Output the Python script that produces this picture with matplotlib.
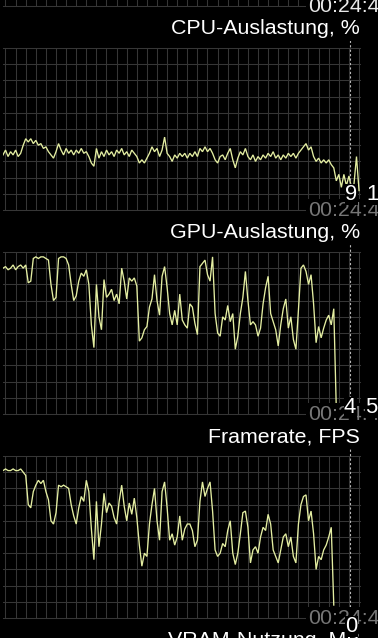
import matplotlib
matplotlib.use("Agg")
import matplotlib.pyplot as plt
import numpy as np
from matplotlib.lines import Line2D

# ---------------- data ----------------
titles = ["CPU-Auslastung, %", "GPU-Auslastung, %", "Framerate, FPS", "VRAM-Nutzung, MB"]
time_label = "00:24:47"

cpu = [34, 37, 33, 36, 34, 37, 33, 35, 40, 44,
       42, 44, 41, 43, 40, 41, 38, 39, 36, 34,
       32, 36, 41, 37, 34, 38, 35, 37, 34, 37,
       35, 38, 35, 36, 33, 29, 27, 38, 32, 36,
       33, 37, 34, 36, 33, 37, 35, 38, 34, 36,
       33, 37, 35, 33, 29, 31, 29, 32, 35, 39,
       36, 38, 33, 37, 45, 35, 33, 30, 34, 32,
       35, 33, 35, 32, 35, 33, 36, 33, 38, 36,
       39, 36, 38, 35, 31, 29, 33, 34, 31, 35,
       38, 31, 26, 32, 36, 34, 38, 33, 31, 34,
       30, 33, 31, 34, 32, 35, 33, 36, 32, 34,
       31, 34, 32, 35, 33, 35, 32, 35, 37, 39,
       41, 37, 39, 33, 30, 32, 29, 31, 29, 31,
       28, 26, 18, 22, 14, 22, 15, 21, 14, 16,
       33, 12]

gpu = [90, 91, 89, 90, 92, 89, 91, 92, 90, 92,
       81, 82, 96, 97, 96, 97, 97, 96, 95, 80,
       70, 72, 96, 97, 97, 96, 92, 80, 70, 73,
       82, 87, 85, 89, 80, 55, 41, 80, 60, 52,
       83, 72, 74, 77, 70, 74, 68, 90, 82, 71,
       84, 82, 84, 79, 45, 47, 52, 54, 66, 71,
       86, 70, 61, 85, 91, 78, 62, 55, 64, 55,
       74, 58, 55, 53, 68, 66, 56, 49, 91, 93,
       95, 86, 82, 97, 62, 50, 48, 60, 58, 67,
       57, 62, 40, 48, 62, 72, 88, 70, 55, 57,
       55, 48, 53, 68, 78, 85, 62, 57, 52, 42,
       55, 65, 71, 53, 60, 46, 40, 64, 90, 92,
       88, 80, 86, 68, 44, 54, 47, 53, 58, 61,
       55, 65, 3]

fps = [91, 92, 91, 91, 92, 91, 91, 92, 90, 88,
       70, 68, 78, 82, 85, 83, 85, 78, 73, 60,
       58, 65, 82, 81, 82, 81, 80, 70, 63, 58,
       68, 75, 72, 85, 78, 55, 36, 72, 44, 58,
       77, 65, 71, 69, 62, 58, 72, 82, 69, 60,
       71, 64, 74, 62, 45, 32, 40, 38, 58, 70,
       80, 60, 48, 78, 84, 68, 48, 52, 45, 50,
       63, 48, 55, 58, 58, 54, 44, 48, 72, 84,
       75, 80, 84, 66, 42, 38, 40, 46, 44, 54,
       60, 40, 33, 40, 52, 65, 66, 56, 34, 42,
       44, 40, 50, 56, 54, 64, 58, 42, 38, 34,
       42, 50, 52, 44, 50, 38, 34, 58, 70, 75,
       76, 60, 66, 52, 30, 38, 36, 42, 45, 50,
       56, 8]

series = [None, cpu, gpu, fps]          # panel -1 is the cut-off one at the top
value_labels = [[], [("9", 345), ("1", 366)], [("4", 344), ("5", 365)], [("0", 345)]]
value_baseline_offset = [0, -10, -1, 14]

# ---------------- styling / layout ----------------
W, H = 378, 638
BG = "black"
GRID = "#363636"
LINE = "#e4eea2"
FONT = ["Liberation Sans", "DejaVu Sans"]
plt.rcParams["font.family"] = FONT

LEFT, RIGHT = 3, 360
TOP0, PH, PITCH = 48, 162, 204
STEP = 2.525                       # pixels per sample
XMAX = (RIGHT - LEFT) / STEP
GRID_X0 = 0.99                     # first vertical grid line (samples)

fig = plt.figure(figsize=(W / 100, H / 100), dpi=100, facecolor=BG)


def fx(px):
    return px / W


def fy(py):
    return 1 - py / H


for p, data in enumerate(series):
    top = TOP0 + PITCH * (p - 1)
    bottom = top + PH
    ax = fig.add_axes([fx(LEFT), fy(bottom), fx(RIGHT) - fx(LEFT), PH / H])
    ax.set_xlim(0, XMAX)
    ax.set_ylim(0, 100)
    ax.set_axis_off()
    for k in range(36):
        ax.axvline(GRID_X0 + 4 * k, color=GRID, lw=0.75, zorder=1)
    for j in range(11):
        ax.axhline(j * 10, color=GRID, lw=0.75, zorder=1, clip_on=False)
    if data is not None:
        ax.plot(np.arange(len(data)), data, color=LINE, lw=0.95, zorder=3,
                solid_joinstyle="miter")

# cursor line
fig.add_artist(Line2D([fx(350), fx(350)], [0, 1], transform=fig.transFigure,
                      color="#b8b8b8", lw=0.8, linestyle=(0, (2, 2)), zorder=5))

box = dict(facecolor=BG, edgecolor="none", pad=1.5)
FS = 15.4

for p in range(5):
    top = TOP0 + PITCH * (p - 1)
    bottom = top + PH
    # time stamp under each graph
    fig.text(fx(308), fy(bottom + 6.5), time_label, color="#e8e8e8" if p == 0 else "#767676",
             fontsize=FS, ha="left", va="baseline", bbox=box, zorder=10)
    # title above next graph
    if p < 4:
        fig.text(fx(360), fy(top + PITCH - 13.5), titles[p], color="white", fontsize=FS,
                 ha="right", va="baseline", bbox=box, zorder=10)
    if p < 4 and value_labels[p]:
        for s, xpx in value_labels[p]:
            fig.text(fx(xpx), fy(bottom + value_baseline_offset[p]), s, color="white",
                     fontsize=15.8, ha="left", va="baseline",
                     bbox=dict(facecolor=BG, edgecolor="none", pad=0.3), zorder=11)

fig.savefig("out.png", dpi=100, facecolor=BG)
